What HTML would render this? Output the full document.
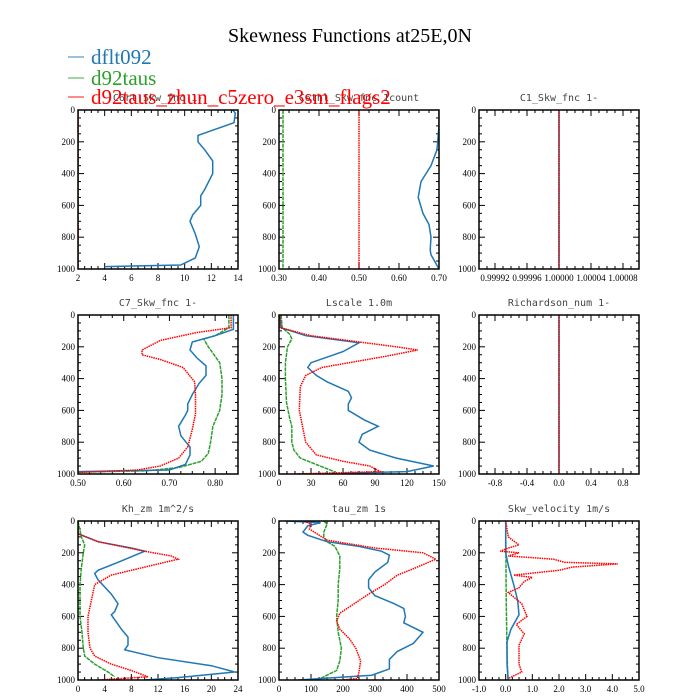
<!DOCTYPE html>
<html><head><meta charset="utf-8"><style>
body{margin:0;background:#fff;}
svg{display:block;}
.tk{font-family:"Liberation Serif",serif;font-size:9px;fill:#000;}
.pt{font-family:"DejaVu Sans Mono","Liberation Mono",monospace;font-size:10px;fill:#444;}
</style></head><body>
<svg id="c" width="700" height="700" viewBox="0 0 700 700">
<rect width="700" height="700" fill="#fff"/>
<text x="350" y="42" text-anchor="middle" font-family="Liberation Serif,serif" font-size="20">Skewness Functions at25E,0N</text>
</svg>
<script>
// depth levels + values for each series (pairs: [value, depth])
const panelTitles = ["C6rt_Skw_fnc   1-","C6thl_Skw_fnc   1count","C1_Skw_fnc   1-","C7_Skw_fnc   1-","Lscale   1.0m","Richardson_num   1-","Kh_zm   1m^2/s","tau_zm   1s","Skw_velocity   1m/s"];
const xRanges = [[2,14],[0.3,0.7],[0.9999,1.0001],[0.5,0.85],[0,150],[-1,1],[0,24],[0,500],[-1,5]];
const xTickLabels = [
 ["2","4","6","8","10","12","14"],
 ["0.30","0.40","0.50","0.60","0.70"],
 ["0.99992","0.99996","1.00000","1.00004","1.00008"],
 ["0.50","0.60","0.70","0.80"],
 ["0","30","60","90","120","150"],
 ["-0.8","-0.4","0.0","0.4","0.8"],
 ["0","4","8","12","16","20","24"],
 ["0","100","200","300","400","500"],
 ["-1.0","0.0","1.0","2.0","3.0","4.0","5.0"]];
const yTickLabels = ["0","200","400","600","800","1000"];
const seriesNames = ["dflt092","d92taus","d92taus_zhun_c5zero_e3sm_flags2"];
const blueP1 = [[13.6,0],[13.8,20],[13.7,80],[12,130],[11,160],[11,200],[11.5,250],[12.1,320],[12.1,400],[11.5,500],[11.2,540],[11.2,600],[11,620],[10.6,660],[10.4,700],[10.8,780],[11.1,860],[10.8,930],[9.7,975],[4,985]];
const greenP1 = [[2,0],[2,1000]];
const redP1 = [[2,0],[2,1000]];
const blueP2 = [[0.70,0],[0.70,100],[0.695,250],[0.68,350],[0.655,450],[0.648,550],[0.66,650],[0.675,720],[0.68,800],[0.678,880],[0.68,910],[0.70,1000]];
const greenP2 = [[0.31,0],[0.31,1000]];
const redP2 = [[0.5,0],[0.5,1000]];
const blueP3 = [[1,0],[1,1000]];
const greenP3 = [[1,0],[1,1000]];
const redP3 = [[1,0],[1,1000]];
const blueP4 = [[0.84,0],[0.84,90],[0.80,130],[0.75,170],[0.745,220],[0.76,270],[0.78,320],[0.78,380],[0.765,430],[0.75,500],[0.74,560],[0.74,600],[0.735,630],[0.72,700],[0.725,760],[0.745,830],[0.745,880],[0.735,940],[0.70,975],[0.50,985]];
const greenP4 = [[0.83,0],[0.83,80],[0.80,130],[0.775,150],[0.785,200],[0.81,300],[0.815,400],[0.815,500],[0.81,600],[0.795,700],[0.79,800],[0.785,870],[0.77,920],[0.72,960],[0.65,980],[0.50,988]];
const redP4 = [[0.835,0],[0.835,80],[0.76,110],[0.68,160],[0.64,220],[0.64,250],[0.68,280],[0.73,330],[0.755,420],[0.757,500],[0.757,620],[0.75,720],[0.74,830],[0.72,900],[0.68,950],[0.63,975],[0.50,990]];
const blueP5 = [[1,0],[2,80],[25,130],[75,175],[60,230],[30,300],[27,330],[35,380],[45,420],[65,480],[68,520],[65,560],[65,600],[80,660],[93,700],[78,750],[75,800],[85,850],[110,900],[145,950],[120,985],[60,995]];
const greenP5 = [[2,0],[3,80],[10,120],[12,150],[8,200],[6,300],[6,400],[7,550],[10,650],[12,700],[12,800],[14,850],[20,900],[35,940],[50,980],[52,995]];
const redP5 = [[1,0],[1,80],[30,130],[110,200],[130,220],[100,260],[40,330],[25,380],[20,450],[19,600],[22,700],[25,800],[35,880],[60,920],[85,950],[95,985],[15,1000]];
const blueP6 = [[0,0],[0,1000]];
const greenP6 = [[0,0],[0,1000]];
const redP6 = [[0,0],[0,1000]];
const blueP7 = [[0,0],[0,80],[3,130],[8,170],[10,190],[6,260],[3,310],[2.5,330],[3,370],[5,460],[6,520],[5.5,570],[5,590],[6.5,680],[7.5,730],[7.5,780],[7,810],[12,860],[20,910],[23.5,950],[15,985],[10,1000]];
const greenP7 = [[0,0],[0.5,100],[1,150],[0.8,200],[0.5,300],[0.3,400],[0.3,600],[0.6,700],[0.8,800],[1,850],[2.5,900],[4.5,950],[5.5,980]];
const redP7 = [[0,0],[0,80],[3,130],[10,190],[14,220],[15,240],[10,290],[5,340],[2.5,400],[2,500],[1.5,600],[1.5,700],[1.8,800],[2.5,850],[5,900],[8,940],[10.5,980],[3,1000]];
const blueP8 = [[20,0],[130,10],[90,30],[75,70],[90,90],[150,130],[250,160],[320,190],[345,215],[340,260],[300,320],[280,370],[280,420],[300,470],[360,520],[390,550],[395,600],[390,640],[450,700],[420,770],[370,820],[345,870],[345,930],[290,970],[60,1000]];
const greenP8 = [[140,0],[150,20],[140,70],[140,100],[150,130],[175,160],[190,220],[190,300],[185,400],[185,500],[180,600],[185,700],[195,800],[190,880],[180,940],[140,980],[120,1000]];
const redP8 = [[80,0],[100,20],[95,50],[150,120],[300,170],[450,200],[490,240],[420,300],[370,340],[330,400],[280,460],[220,540],[190,580],[180,630],[190,680],[220,740],[240,800],[255,880],[250,950],[245,990],[200,1000]];
const blueP9 = [[0,0],[0,200],[0.1,280],[0.3,400],[0.45,500],[0.5,590],[0.2,680],[0.05,760],[0.05,900],[0.1,1000]];
const greenP9 = [[0,0],[0.02,500],[0.05,800],[0.08,1000]];
const redP9 = [[0,0],[0.1,100],[0.5,150],[0.1,170],[-0.2,190],[0.5,200],[0.1,220],[1.8,240],[2.2,260],[4.2,270],[2.5,290],[2.0,310],[0.3,340],[1.0,355],[0.7,380],[0.5,420],[0.1,450],[0.6,520],[0.8,600],[0.4,650],[0.7,710],[0.5,780],[0.5,900],[0.6,950],[0.1,990]];
const allSeries = [[blueP1,greenP1,redP1],[blueP2,greenP2,redP2],[blueP3,greenP3,redP3],[blueP4,greenP4,redP4],[blueP5,greenP5,redP5],[blueP6,greenP6,redP6],[blueP7,greenP7,redP7],[blueP8,greenP8,redP8],[blueP9,greenP9,redP9]];

const NS="http://www.w3.org/2000/svg";
const svg=document.getElementById('c');
function mk(tag,attrs,parent){const e=document.createElementNS(NS,tag);for(const k in attrs)e.setAttribute(k,attrs[k]);(parent||svg).appendChild(e);return e;}
const colX=[78,279,479], rowY=[110,315,521], PW=160, PH=159;
const colors=["#1f77b4","#2ca02c","#ff0000"];
const names=["blue","green","red"];

for(let p=0;p<9;p++){
  const x0=colX[p%3], y0=rowY[Math.floor(p/3)];
  const [xmin,xmax]=xRanges[p];
  const sx=v=>x0+(v-xmin)/(xmax-xmin)*PW;
  const sy=d=>y0+d/1000*PH;
  const g=mk('g',{});
  
  
  const t=mk('text',{x:x0+PW/2,y:y0-9,'text-anchor':'middle','class':'pt'},g);
  t.textContent=panelTitles[p];
  
  
  // y ticks
  for(let d=0;d<=1000;d+=50){
    const major=d%200===0, L=major?6:3;
    mk('line',{x1:x0,x2:x0+L,y1:sy(d),y2:sy(d),stroke:'#000','stroke-width':1},g);
    mk('line',{x1:x0+PW,x2:x0+PW-L,y1:sy(d),y2:sy(d),stroke:'#000','stroke-width':1},g);
  }
  yTickLabels.forEach(l=>{const tt=mk('text',{x:x0-3,y:sy(+l)+3,'text-anchor':'end','class':'tk'},g);tt.textContent=l;
    
    });
  // x ticks
  const vals=xTickLabels[p].map(Number);
  const step=vals[1]-vals[0];
  for(let v=vals[0]-step;v<=xmax+1e-12;v+=step/4){
    if(v<xmin-1e-12) continue;
    const k=Math.round((v-vals[0])/(step/4)); const major=k%4===0, L=major?6:3;
    mk('line',{x1:sx(v),x2:sx(v),y1:y0+PH,y2:y0+PH-L,stroke:'#000','stroke-width':1},g);
    mk('line',{x1:sx(v),x2:sx(v),y1:y0,y2:y0+L,stroke:'#000','stroke-width':1},g);
  }
  xTickLabels[p].forEach(l=>{const tt=mk('text',{x:sx(+l),y:y0+PH+12,'text-anchor':'middle','class':'tk'},g);tt.textContent=l;
    
    });
  // series
  const cp=mk('clipPath',{id:'cp'+p},g); mk('rect',{x:x0,y:y0,width:PW,height:PH},cp);
  [1,0,2].forEach(i=>{
    const pts=allSeries[p][i].map(q=>sx(q[0]).toFixed(1)+','+sy(q[1]).toFixed(1)).join(' ');
    const pl=mk('polyline',{points:pts,fill:'none',stroke:colors[i],'stroke-width':1.5,'clip-path':'url(#cp'+p+')'},g);
    if(i===2) pl.setAttribute('stroke-dasharray','1.5,0.8');
    if(i===1) pl.setAttribute('stroke-dasharray','4,0.8');
    
    
  });
  mk('rect',{x:x0,y:y0,width:PW,height:PH,fill:'none',stroke:'#000','stroke-width':1.5},g);
}
// legend
const legY=[64,85,104];
seriesNames.forEach((n,i)=>{
  const g=mk('g',{});
  
  
  mk('line',{x1:68,x2:84,y1:legY[i]-7,y2:legY[i]-7,stroke:colors[i],'stroke-width':1.5,opacity:0.6},g);
  const tt=mk('text',{x:91,y:legY[i],fill:colors[i],'font-family':'Liberation Serif,serif','font-size':21},g);
  tt.textContent=n;
});
</script>
</body></html>
